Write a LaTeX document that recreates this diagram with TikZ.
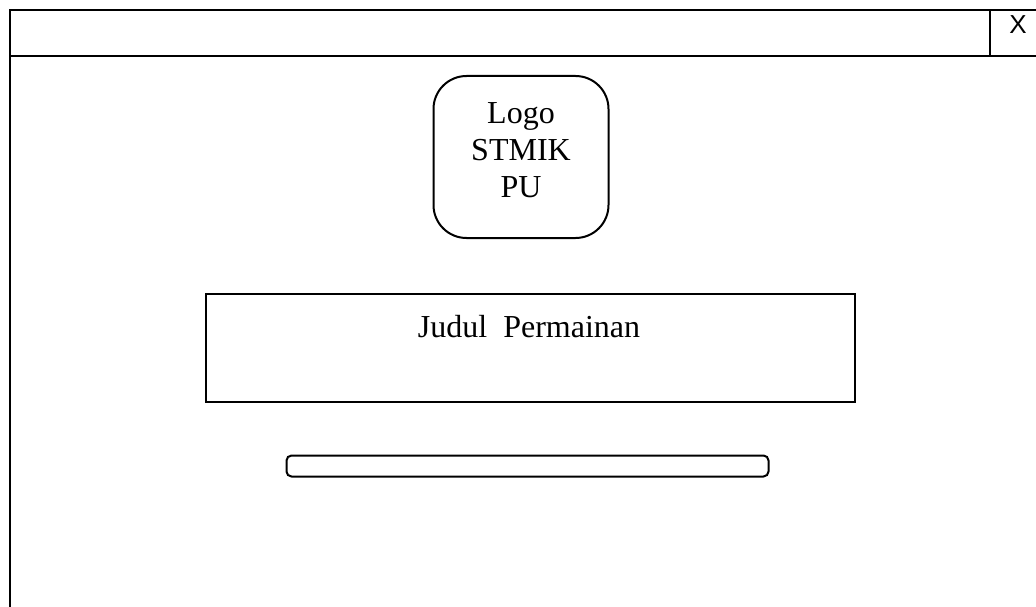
\documentclass[tikz,border=0pt]{standalone}
\usepackage{fontspec}
\setmainfont{Liberation Serif}
\newfontfamily\sansf{Liberation Sans}
\tikzset{px/.style={x=1pt,y=-1pt},
 ln/.style={draw=black,line width=2pt},
 lab/.style={font=\fontsize{32}{37}\selectfont,align=center,inner sep=0pt}}
\begin{document}
\begin{tikzpicture}[px]
\useasboundingbox (0,0) rectangle (1036,607);
\fill[white] (0,0) rectangle (1036,607);
\coordinate (tl) at (10,10);
\coordinate (tr) at (1036,10);
\coordinate (ml) at (10,56);
\coordinate (mr) at (1036,56);
\coordinate (bl) at (10,607);
\coordinate (xt) at (990,10);
\coordinate (xb) at (990,56);
\draw[ln] (tr) -- (tl) -- (bl);
\draw[ln] (ml) -- (mr);
\draw[ln] (xt) -- (xb);
\node[font=\sansf\fontsize{26}{30}\selectfont,inner sep=0pt] (x) at (1018,25) {X};
\node[ln,rounded corners=33pt,minimum width=175pt,minimum height=162pt,draw,outer sep=0pt] (logo) at (521,157) {};
\node[lab] (lt) at (521,150) {Logo\\STMIK\\PU};
\node[ln,minimum width=649pt,minimum height=108pt,draw] (judul) at (530.5,347.5) {};
\node[lab] (jt) at (529,327) {Judul\ \ Permainan};
\node[ln,rounded corners=5pt,minimum width=482pt,minimum height=21pt,draw] (bar) at (527.5,466) {};
\end{tikzpicture}
\end{document}
